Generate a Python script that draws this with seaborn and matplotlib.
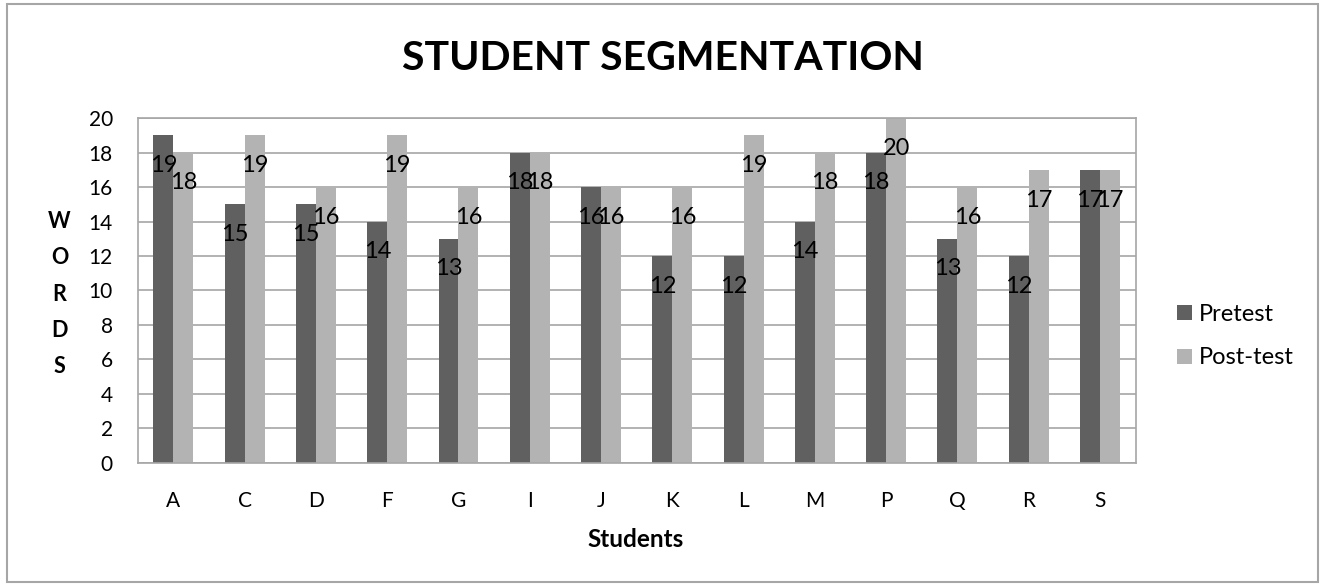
import matplotlib
matplotlib.use("Agg")
import matplotlib.pyplot as plt
import seaborn as sns
import pandas as pd
from matplotlib.patches import Rectangle

students = ["A", "C", "D", "F", "G", "I", "J", "K", "L", "M", "P", "Q", "R", "S"]
pretest = [19, 15, 15, 14, 13, 18, 16, 12, 12, 14, 18, 13, 12, 17]
posttest = [18, 19, 16, 19, 16, 18, 16, 16, 19, 18, 20, 16, 17, 17]
series = ["Pretest", "Post-test"]
colors = ["#606060", "#b3b3b3"]

df = pd.DataFrame({
    "Student": students * 2,
    "Words": pretest + posttest,
    "Test": [series[0]] * len(students) + [series[1]] * len(students),
})

sns.set_theme(style="white")
plt.rcParams["font.family"] = ["Lato", "DejaVu Sans"]
plt.rcParams["text.color"] = "black"

fig = plt.figure(figsize=(13.25, 5.85), dpi=100)
ax = fig.add_axes([0.104, 0.209, 0.753, 0.589])

sns.barplot(data=df, x="Student", y="Words", hue="Test", order=students,
            hue_order=series, palette=colors, width=0.56, gap=0,
            saturation=1, edgecolor="none", linewidth=0, ax=ax, legend=True)

ax.set_ylim(0, 20)
ax.set_yticks(range(0, 21, 2))
ax.set_xlim(-0.5, len(students) - 0.5)
ax.yaxis.grid(True, color="#a6a6a6", linewidth=1.2)
ax.set_axisbelow(True)
for s in ax.spines.values():
    s.set_color("#a6a6a6")
    s.set_linewidth(1.2)
ax.tick_params(axis="both", length=0, labelsize=15, colors="black")
ax.tick_params(axis="y", pad=18)
ax.tick_params(axis="x", pad=20)
ax.set_xlabel("")
ax.set_ylabel("")

# value labels sit inside the top of each bar
for container, vals in zip(ax.containers, [pretest, posttest]):
    for bar, v in zip(container, vals):
        cx = bar.get_x() + bar.get_width() / 2
        ax.text(cx, v - 1.75, str(v), ha="center", va="center",
                fontsize=17, color="black")

handles, labels = ax.get_legend_handles_labels()
ax.legend(handles, labels, loc="center left", bbox_to_anchor=(1.042, 0.367),
          frameon=False, fontsize=17, handlelength=0.62, handleheight=0.62,
          handletextpad=0.3, labelspacing=0.95, borderpad=0, borderaxespad=0)

fig.text(0.5, 0.9, "STUDENT SEGMENTATION", ha="center", va="center",
         fontsize=29.5, fontweight="bold")
fig.text(0.48, 0.077, "Students", ha="center", va="center",
         fontsize=17.5, fontweight="bold")
fig.text(0.045, 0.497, "W\nO\nR\nD\nS", ha="center", va="center",
         fontsize=15.5, fontweight="bold", linespacing=1.9)

fig.patches.append(Rectangle((0.005, 0.005), 0.99, 0.988, transform=fig.transFigure,
                             fill=False, edgecolor="#a6a6a6", linewidth=1.5))

fig.savefig("out.png", dpi=100, facecolor="white")
